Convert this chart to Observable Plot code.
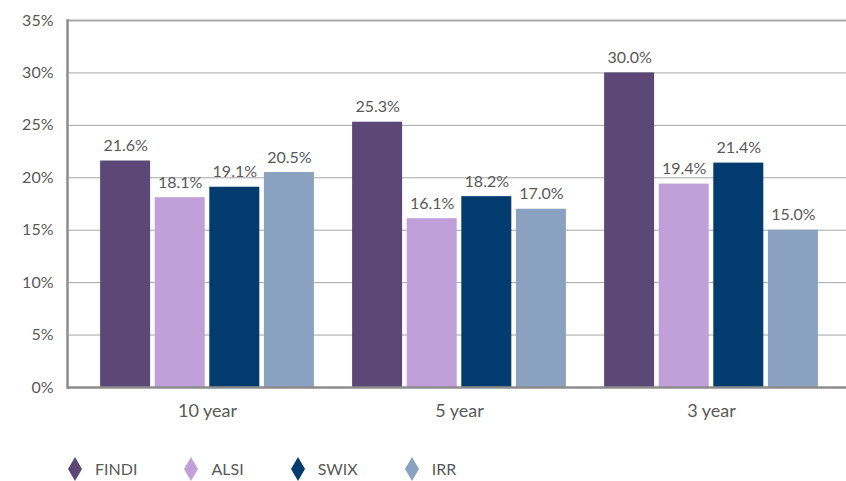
<!DOCTYPE html>
<html>
<head>
<meta charset="utf-8">
<script src="https://cdn.jsdelivr.net/npm/d3@7"></script>
<script src="https://cdn.jsdelivr.net/npm/@observablehq/plot@0.6"></script>
<style>
  html, body { margin: 0; padding: 0; background: #fff; }
  #chart { width: 846px; height: 481px; font-family: Lato, "Open Sans", sans-serif; color: #595959; }
  .legend { display: flex; align-items: center; height: 41px; padding-top: 8px; box-sizing: content-box; padding-left: 68px; font-size: 16px; color: #595959; }
  .legend .item { display: flex; align-items: center; margin-right: 47px; }
  .legend svg { margin-right: 13px; }
</style>
</head>
<body>
<div id="chart"></div>
<script>
// ---- data ----
const categories = ["10 year", "5 year", "3 year"];
const series = ["FINDI", "ALSI", "SWIX", "IRR"];
const findi = [21.6, 25.3, 30.0];
const alsi  = [18.1, 16.1, 19.4];
const swix  = [19.1, 18.2, 21.4];
const irr   = [20.5, 17.0, 15.0];
const yTicks = [0, 5, 10, 15, 20, 25, 30, 35];

// ---- styling ----
const palette = ["#5B4877", "#C1A0D9", "#023C6F", "#8AA1BF"];
const textColor = "#595959";
const gridColor = "#A6A6A6";

const valuesBySeries = [findi, alsi, swix, irr];
const rows = [];
series.forEach((s, j) => categories.forEach((c, i) => rows.push({category: c, series: s, value: valuesBySeries[j][i]})));

const barWidth = 50, pitch = 54.6, step = 252;
const inset = (step - barWidth) / 2;

const barMarks = series.flatMap((s, j) => {
  const data = rows.filter(d => d.series === s);
  const dx = (j - 1.5) * pitch;
  return [
    Plot.barY(data, {x: "category", y: "value", fill: palette[j], insetLeft: inset, insetRight: inset, dx}),
    Plot.text(data, {x: "category", y: "value", text: d => d.value.toFixed(1) + "%", dx, dy: -15, fill: textColor, fontSize: 16})
  ];
});

const plot = Plot.plot({
  width: 846,
  height: 440,
  marginLeft: 67,
  marginRight: 0,
  marginTop: 20,
  marginBottom: 53,
  style: {fontFamily: "Lato, 'Open Sans', sans-serif", fontSize: "16px", color: textColor, background: "#fff"},
  x: {domain: categories, paddingInner: 0, paddingOuter: 0.0456, align: 0.61, label: null},
  y: {domain: [0, 35], label: null},
  marks: [
    Plot.ruleY(yTicks.filter(t => t > 0 && t < 35), {stroke: gridColor, strokeWidth: 1}),
    Plot.ruleY([35], {stroke: gridColor, strokeWidth: 2}),
    ...barMarks,
    Plot.ruleY([0], {stroke: "#8C8C8C", strokeWidth: 2.5}),
    Plot.axisY({ticks: yTicks, tickFormat: d => d + "%", tickSize: 0, tickPadding: 14, label: null, fill: textColor, fontSize: 16}),
    Plot.axisX({tickSize: 0, tickPadding: 17, label: null, fill: textColor, fontSize: 18}),
    Plot.frame({anchor: "left", stroke: "#8C8C8C", strokeWidth: 2.5})
  ]
});

const root = document.getElementById("chart");
root.appendChild(plot);

const legend = document.createElement("div");
legend.className = "legend";
series.forEach((s, j) => {
  const item = document.createElement("div");
  item.className = "item";
  item.innerHTML = `<svg width="14" height="24" viewBox="0 0 14 24"><polygon points="7,0 14,12 7,24 0,12" fill="${palette[j]}"/></svg><span>${s}</span>`;
  legend.appendChild(item);
});
root.appendChild(legend);
</script>
</body>
</html>
